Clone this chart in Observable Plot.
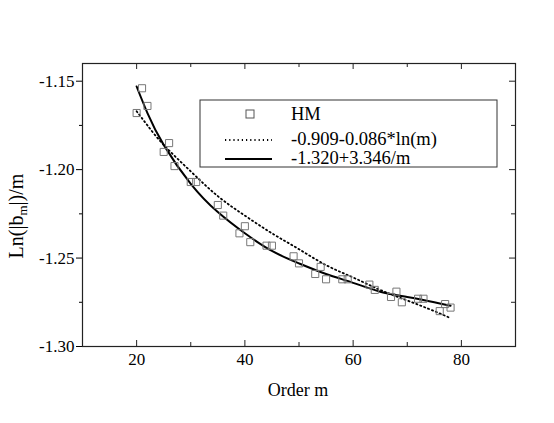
<!DOCTYPE html>
<html>
<head>
<meta charset="utf-8">
<script src="https://cdn.jsdelivr.net/npm/d3@7"></script>
<script src="https://cdn.jsdelivr.net/npm/@observablehq/plot@0.6"></script>
<style>
  html, body { margin: 0; padding: 0; background: white; }
</style>
</head>
<body>
<div id="chart"></div>
<script>
// HM data points
const hmM = [20,21,22,25,26,27,30,31,35,36,39,40,41,44,45,49,50,53,54,55,58,59,63,64,67,68,69,72,73,76,77,78];
const hmV = [-1.168,-1.154,-1.164,-1.190,-1.185,-1.198,-1.207,-1.207,-1.220,-1.226,-1.236,-1.232,-1.241,-1.243,-1.243,-1.249,-1.253,-1.259,-1.255,-1.262,-1.262,-1.262,-1.265,-1.268,-1.272,-1.269,-1.275,-1.273,-1.273,-1.280,-1.276,-1.278];

// fitted curves
const curveM   = [20,22,25,30,35,40,45,50,55,60,65,70,75,78];
const dottedV  = [-1.167,-1.175,-1.186,-1.201,-1.215,-1.226,-1.236,-1.245,-1.254,-1.261,-1.268,-1.274,-1.280,-1.284];
const solidV   = [-1.153,-1.168,-1.186,-1.208,-1.224,-1.236,-1.246,-1.253,-1.259,-1.264,-1.269,-1.272,-1.275,-1.277];

const seriesNames = ["HM", "-0.909-0.086*ln(m)", "-1.320+3.346/m"];

// ticks
const xMajor = [20,40,60,80];
const xMinor = [30,50,70];
const yMajor = [-1.30,-1.25,-1.20,-1.15];
const yMinor = [-1.275,-1.225,-1.175];

const hm = hmM.map((m,i) => ({m, v: hmV[i]}));
const dotted = curveM.map((m,i) => ({m, v: dottedV[i]}));
const solid = curveM.map((m,i) => ({m, v: solidV[i]}));

const W = 554, H = 423;
const mT = 63, mR = 39, mB = 77, mL = 82;
const innerW = W - mL - mR, innerH = H - mT - mB;
const dotDash = "1.2,3";

const svg = Plot.plot({
  width: W, height: H,
  marginTop: mT, marginRight: mR, marginBottom: mB, marginLeft: mL,
  x: {domain: [10, 90]},
  y: {domain: [-1.30, -1.14]},
  style: {fontFamily: "Liberation Serif", fontSize: "17px", color: "black", background: "white"},
  marks: [
    Plot.axisY(yMajor, {tickSize: 6, tickPadding: 2, tickFormat: d => d.toFixed(2), label: null, fontSize: 17}),
    Plot.axisY(yMinor, {tickSize: 3, tickFormat: () => "", label: null}),
    Plot.axisX(xMajor, {tickSize: 0, tickPadding: 6, tickFormat: d => String(d), label: null, fontSize: 17}),
    // inward ticks on bottom, top and right
    Plot.ruleX(xMajor, {insetTop: innerH - 6, stroke: "#222"}),
    Plot.ruleX(xMinor, {insetTop: innerH - 4, stroke: "#222"}),
    Plot.ruleX(xMajor, {insetBottom: innerH - 6, stroke: "#222"}),
    Plot.ruleX(xMinor, {insetBottom: innerH - 4, stroke: "#222"}),
    Plot.ruleY(yMajor, {insetLeft: innerW - 6, stroke: "#222"}),
    Plot.ruleY(yMinor, {insetLeft: innerW - 4, stroke: "#222"}),
    Plot.frame({stroke: "#222", strokeWidth: 1.2}),
    Plot.line(dotted, {x: "m", y: "v", stroke: "black", strokeWidth: 1.8, strokeDasharray: dotDash, curve: "natural"}),
    Plot.line(solid, {x: "m", y: "v", stroke: "black", strokeWidth: 2, curve: "natural"}),
    Plot.dot(hm, {x: "m", y: "v", symbol: "square", r: 4, stroke: "#777", strokeWidth: 1, fill: "none"})
  ]
});

const s = d3.select(svg);
const font = "Liberation Serif";

// y axis label with subscript
const yl = s.append("text")
  .attr("transform", "translate(23,216) rotate(-90)")
  .attr("text-anchor", "middle")
  .attr("font-family", font).attr("font-size", 20).attr("fill", "black");
yl.append("tspan").text("Ln(|b");
yl.append("tspan").attr("font-size", 13).attr("dy", 4).text("m");
yl.append("tspan").attr("dy", -4).text("|)/m");

// x axis label
s.append("text")
  .attr("x", 298).attr("y", 396)
  .attr("text-anchor", "middle")
  .attr("font-family", font).attr("font-size", 18).attr("fill", "black")
  .text("Order m");

// legend
const lg = s.append("g").attr("text-anchor", "start");
lg.append("rect").attr("x", 200).attr("y", 100).attr("width", 297).attr("height", 67)
  .attr("fill", "white").attr("stroke", "#333").attr("stroke-width", 1);
lg.append("rect").attr("x", 246).attr("y", 110).attr("width", 8).attr("height", 8)
  .attr("fill", "none").attr("stroke", "#555").attr("stroke-width", 1);
lg.append("line").attr("x1", 225).attr("x2", 272).attr("y1", 140).attr("y2", 140)
  .attr("stroke", "black").attr("stroke-width", 1.8).attr("stroke-dasharray", dotDash);
lg.append("line").attr("x1", 225).attr("x2", 272).attr("y1", 159).attr("y2", 159)
  .attr("stroke", "black").attr("stroke-width", 2);
const ys = [114, 139, 158];
seriesNames.forEach((n, i) => {
  lg.append("text").attr("x", 291).attr("y", ys[i]).attr("dy", "0.35em")
    .attr("text-anchor", "start")
    .attr("font-family", font).attr("font-size", 18.5).attr("fill", "black").text(n);
});

document.getElementById("chart").appendChild(svg);
</script>
</body>
</html>
